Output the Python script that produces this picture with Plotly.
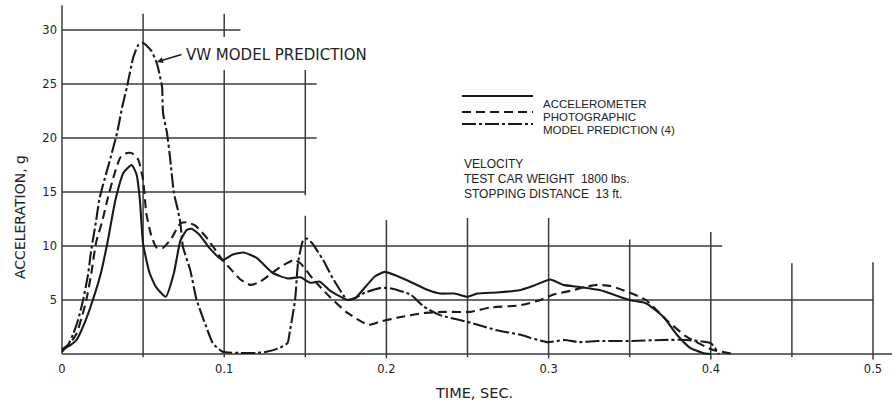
import plotly.graph_objects as go

# ---------------- data ----------------
t_acc = [0, 0.005, 0.009, 0.014, 0.019, 0.024, 0.028, 0.033, 0.038, 0.043, 0.046, 0.048,
         0.050, 0.054, 0.058, 0.064, 0.069, 0.073, 0.077, 0.080, 0.085, 0.091, 0.099, 0.105,
         0.112, 0.120, 0.130, 0.139, 0.147, 0.153, 0.159, 0.165, 0.176, 0.181, 0.187, 0.193,
         0.199, 0.207, 0.216, 0.226, 0.233, 0.242, 0.250, 0.256, 0.268, 0.282, 0.292, 0.301,
         0.309, 0.319, 0.332, 0.340, 0.350, 0.360, 0.371, 0.379, 0.387, 0.395, 0.400]
g_acc = [0.4, 0.8, 1.3, 2.9, 5.0, 7.5, 10.3, 14.3, 16.8, 17.5, 16.6, 14.3,
         10.2, 7.5, 6.2, 5.3, 7.5, 10.5, 11.5, 11.6, 11.0, 9.8, 8.7, 9.2,
         9.4, 8.9, 7.5, 7.0, 7.1, 6.6, 6.7, 5.9, 5.0, 5.2, 6.2, 7.2,
         7.6, 7.2, 6.6, 5.9, 5.6, 5.6, 5.3, 5.6, 5.7, 5.9, 6.4, 6.9,
         6.4, 6.2, 5.9, 5.5, 5.0, 4.7, 3.4, 1.8, 0.6, 0.1, 0.0]

t_pho = [0, 0.005, 0.009, 0.012, 0.015, 0.018, 0.021, 0.025, 0.028, 0.032, 0.036, 0.040,
         0.043, 0.047, 0.050, 0.052, 0.055, 0.058, 0.062, 0.067, 0.073, 0.077, 0.082, 0.089,
         0.099, 0.105, 0.110, 0.116, 0.121, 0.126, 0.134, 0.143, 0.147, 0.155, 0.165, 0.176,
         0.189, 0.196, 0.208, 0.223, 0.237, 0.252, 0.264, 0.282, 0.295, 0.303, 0.315, 0.322,
         0.330, 0.338, 0.346, 0.360, 0.373, 0.385, 0.401, 0.414]
g_pho = [0.4, 1.0, 1.9, 3.3, 5.0, 7.4, 10.3, 12.4, 14.3, 16.5, 18.2, 18.6,
         18.6, 18.0, 16.1, 13.0, 11.0, 9.9, 9.8, 10.6, 12.1, 12.2, 11.9, 10.8,
         8.7, 7.7, 6.9, 6.4, 6.6, 7.1, 8.0, 8.7, 8.4, 6.9, 5.3, 3.8,
         2.7, 3.0, 3.4, 3.8, 3.9, 3.9, 4.3, 4.5, 5.0, 5.5, 5.9, 6.2,
         6.4, 6.3, 5.9, 5.0, 3.1, 1.6, 0.4, 0.0]

t_mod = [0, 0.004, 0.007, 0.010, 0.013, 0.016, 0.018, 0.021, 0.023, 0.025, 0.030, 0.034,
         0.037, 0.040, 0.044, 0.047, 0.050, 0.055, 0.0585, 0.060, 0.0617, 0.0623, 0.0647, 0.0666,
         0.069, 0.0715, 0.073, 0.0746, 0.079, 0.083, 0.089, 0.093, 0.099, 0.110, 0.120, 0.126,
         0.133, 0.139, 0.1406, 0.1437, 0.1455, 0.1486, 0.151, 0.154, 0.161, 0.167, 0.176, 0.181,
         0.187, 0.196, 0.202, 0.215, 0.223, 0.233, 0.252, 0.268, 0.282, 0.299, 0.310, 0.319,
         0.330, 0.350, 0.370, 0.385, 0.400, 0.405]
g_mod = [0.2, 0.9, 1.9, 3.2, 5.0, 7.3, 9.6, 12.3, 14.3, 15.5, 18.2, 20.5,
         22.8, 24.7, 27.5, 28.6, 28.8, 28.1, 26.9, 26.0, 24.7, 22.3, 20.5, 18.2,
         14.9, 13.3, 12.1, 9.9, 7.8, 5.0, 2.5, 1.0, 0.2, 0.1, 0.1, 0.2,
         0.5, 1.0, 2.2, 5.0, 8.4, 10.5, 10.7, 10.3, 8.7, 7.0, 5.0, 5.2,
         5.7, 6.1, 6.1, 5.5, 4.4, 3.6, 2.9, 2.2, 1.8, 1.1, 1.3, 1.1,
         1.2, 1.2, 1.3, 1.3, 1.0, 0.0]

series_names = ["ACCELEROMETER", "PHOTOGRAPHIC", "MODEL PREDICTION (4)"]

x_tick_vals = [0, 0.1, 0.2, 0.3, 0.4, 0.5]
x_tick_text = ["0", "0.1", "0.2", "0.3", "0.4", "0.5"]
y_tick_vals = [5, 10, 15, 20, 25, 30]
y_tick_text = ["5", "10", "15", "20", "25", "30"]

# irregular hand-drawn grid: (value, from, to)
grid_h = [(30, 0, 0.110), (25, 0, 0.157), (20, 0, 0.157), (15, 0, 0.150),
          (10, 0, 0.407), (5, 0, 0.500), (0, 0, 0.512)]
grid_v = [(0.05, -0.3, 31.5), (0.10, 29.35, 31.5), (0.10, -0.3, 26.3),
          (0.15, 14.7, 26.3), (0.15, -0.3, 12.8), (0.20, -0.4, 12.4),
          (0.25, -0.3, 12.6), (0.30, -0.4, 12.6), (0.35, -0.3, 10.6),
          (0.40, -0.5, 11.3), (0.45, -0.3, 8.4), (0.50, -0.5, 8.5),
          (0.0, 0, 32.3)]

# ---------------- figure ----------------
PX0, PXS = 62, 1622.0     # pixel of t=0, pixels per second
PY0, PYS = 354, 10.8      # pixel of g=0, pixels per g


def tx(px):
    return (px - PX0) / PXS


def gy(py):
    return (PY0 - py) / PYS


INK = "#1a1a1a"
GRID = "#3a3a3a"
dashes = ["solid", "9px,5px", "14px,3px,3px,3px"]

fig = go.Figure()
for (tt, gg), nm, ds in zip([(t_acc, g_acc), (t_pho, g_pho), (t_mod, g_mod)],
                            series_names, dashes):
    fig.add_trace(go.Scatter(x=tt, y=gg, mode="lines", name=nm, showlegend=False,
                             line=dict(color=INK, width=2.1, dash=ds,
                                       shape="spline", smoothing=0.5)))

shapes = []
for g, a, b in grid_h:
    shapes.append(dict(type="line", xref="x", yref="y", x0=a, x1=b, y0=g, y1=g,
                       line=dict(color=GRID, width=1.5), layer="below"))
for t, a, b in grid_v:
    shapes.append(dict(type="line", xref="x", yref="y", x0=t, x1=t, y0=a, y1=b,
                       line=dict(color=GRID, width=1.5), layer="below"))

# manual legend samples
leg_rows_line = [96, 112, 124]
leg_rows_text = [103.5, 116.5, 129.5]
for py, ds in zip(leg_rows_line, dashes):
    shapes.append(dict(type="line", xref="x", yref="y", x0=tx(462), x1=tx(533),
                       y0=gy(py), y1=gy(py), line=dict(color=INK, width=2, dash=ds)))

legfont = dict(family="Liberation Sans, Arial", size=11.5, color="#222")
infofont = dict(family="Liberation Sans, Arial", size=12, color="#222")
annotations = []
for py, nm in zip(leg_rows_text, series_names):
    annotations.append(dict(x=tx(541), y=gy(py), xref="x", yref="y", text=nm,
                            showarrow=False, xanchor="left", yanchor="middle", font=legfont))

info_lines = ["VELOCITY", "TEST CAR WEIGHT  1800 lbs.", "STOPPING DISTANCE  13 ft."]
for py, txt in zip([164, 179, 194], info_lines):
    annotations.append(dict(x=tx(462), y=gy(py), xref="x", yref="y", text=txt,
                            showarrow=False, xanchor="left", yanchor="middle", font=infofont))

hand = "DejaVu Sans"
annotations.append(dict(x=tx(184), y=gy(55), xref="x", yref="y", text="VW MODEL PREDICTION",
                        showarrow=False, xanchor="left", yanchor="middle",
                        font=dict(family=hand, size=15, color="#222")))
annotations.append(dict(x=tx(157), y=gy(62), xref="x", yref="y",
                        ax=tx(183), ay=gy(54), axref="x", ayref="y", text="",
                        showarrow=True, arrowhead=2, arrowsize=0.8, arrowwidth=1.5,
                        arrowcolor=INK))
annotations.append(dict(x=20, y=217, xref="paper", yref="paper", text="ACCELERATION, g",
                        showarrow=False, textangle=-90, font=dict(family=hand, size=14, color="#222")))
annotations.append(dict(x=474, y=393, xref="paper", yref="paper", text="TIME, SEC.",
                        showarrow=False, font=dict(family=hand, size=14.5, color="#222")))

# convert paper-pixel annotations to real paper coords
L, R, T, B = 58, 0, 0, 47
W, H = 892, 407
for a in annotations:
    if a.get("xref") == "paper":
        a["x"] = (a["x"] - L) / (W - L - R)
        a["y"] = (H - B - a["y"]) / (H - T - B)
        a["xanchor"] = "center"
        a["yanchor"] = "middle"

fig.update_layout(
    width=W, height=H,
    margin=dict(l=L, r=R, t=T, b=B),
    paper_bgcolor="white", plot_bgcolor="white",
    showlegend=False,
    shapes=shapes, annotations=annotations,
    xaxis=dict(range=[tx(L), tx(W - R)], showgrid=False, zeroline=False, showline=False,
               tickvals=x_tick_vals, ticktext=x_tick_text, ticks="",
               tickfont=dict(family=hand, size=11.5, color="#222")),
    yaxis=dict(range=[gy(H - B), gy(T)], showgrid=False, zeroline=False, showline=False,
               tickvals=y_tick_vals, ticktext=y_tick_text, ticks="",
               tickfont=dict(family=hand, size=11.5, color="#222")),
)

fig.write_html("out.html")
